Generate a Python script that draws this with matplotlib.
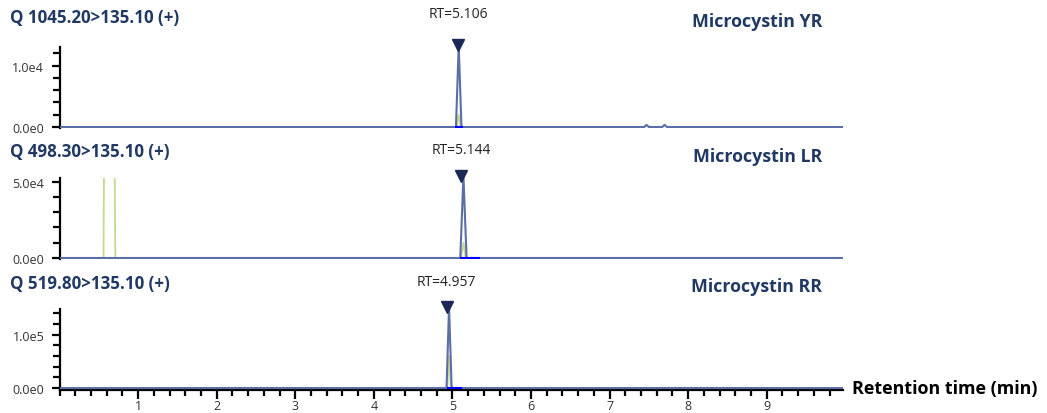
import matplotlib
matplotlib.use("Agg")
import matplotlib.pyplot as plt
from matplotlib.ticker import FixedLocator, MultipleLocator

# ---------------- data ----------------
transitions = ["Q 1045.20>135.10 (+)", "Q 498.30>135.10 (+)", "Q 519.80>135.10 (+)"]
compounds = ["Microcystin YR", "Microcystin LR", "Microcystin RR"]
rt_values = [5.106, 5.144, 4.957]
rt_labels = ["RT=5.106", "RT=5.144", "RT=4.957"]

# quantifier traces (blue)
yr_time = [0.0, 5.045, 5.08, 5.115, 7.44, 7.47, 7.50, 7.67, 7.70, 7.73, 9.97]
yr_int = [0, 0, 13300, 0, 0, 350, 0, 0, 350, 0, 0]
lr_time = [0.0, 5.10, 5.14, 5.18, 9.97]
lr_int = [0, 0, 53700, 0, 0]
rr_time = [0.0, 4.925, 4.957, 4.99, 9.97]
rr_int = [0, 0, 151800, 0, 0]

# qualifier traces (green)
yr_q_time = [5.055, 5.08, 5.105]
yr_q_int = [0, 2000, 0]
lr_q_time = [0.0, 0.56, 0.59, 0.67, 0.71, 5.11, 5.14, 5.17, 9.97]
lr_q_int = [0, 0, 300000, 300000, 0, 0, 10000, 0, 0]
rr_q_time = [4.935, 4.957, 4.98]
rr_q_int = [0, 60000, 0]

# integration baseline segments (bright blue)
yr_base = [5.03, 5.13]
lr_base = [5.10, 5.35]
rr_base = [4.93, 5.12]

# y-axis labelled ticks and minor tick step
y_major = [[0, 10000], [0, 50000], [0, 100000]]
y_major_labels = [["0.0e0", "1.0e4"], ["0.0e0", "5.0e4"], ["0.0e0", "1.0e5"]]
y_minor_step = [2000, 10000, 20000]
y_limits = [(-160, 13050), (-650, 52400), (-3700, 148000)]

x_ticks = [1, 2, 3, 4, 5, 6, 7, 8, 9]
x_tick_labels = ["1", "2", "3", "4", "5", "6", "7", "8", "9"]
x_max = 9.97

main_t = [yr_time, lr_time, rr_time]
main_i = [yr_int, lr_int, rr_int]
qual_t = [yr_q_time, lr_q_time, rr_q_time]
qual_i = [yr_q_int, lr_q_int, rr_q_int]
bases = [yr_base, lr_base, rr_base]

# ---------------- styling ----------------
W, H = 1047, 414
fig = plt.figure(figsize=(W / 100, H / 100), dpi=100)
plt.rcParams['font.family'] = ['Open Sans', 'DejaVu Sans']

navy = "#1f3864"
trace_c = "#5b6ea8"
qual_c = "#c5da8f"
marker_c = "#1b2a55"

# pixel boxes (top, bottom) for each panel axes
boxes = [(48, 129), (179, 260), (310, 391)]
left_px, right_px = 59.5, 843
title_y = [18, 152, 284]
comp_y = [22, 157, 287]
rt_y = [15, 150, 283]

for k in range(3):
    top, bot = boxes[k]
    ax = fig.add_axes([left_px / W, (H - bot) / H, (right_px - left_px) / W, (bot - top) / H])
    ax.set_xlim(0, x_max)
    ax.set_ylim(*y_limits[k])
    ax.plot(qual_t[k], qual_i[k], color=qual_c, lw=1.3, zorder=2)
    ax.plot(main_t[k], main_i[k], color=trace_c, lw=1.5, zorder=3)
    ax.plot(bases[k], [0, 0], color="#0000ff", lw=1.5, zorder=4, solid_capstyle="butt")
    apex = max(main_i[k])
    ax.plot([rt_values[k] - 0.03], [apex], marker="v", ms=8, color=marker_c,
            clip_on=False, zorder=5)

    for s in ["top", "right"]:
        ax.spines[s].set_visible(False)
    ax.spines["left"].set_linewidth(1.6)
    ax.spines["left"].set_color("black")
    ax.yaxis.set_major_locator(FixedLocator(y_major[k]))
    ax.set_yticklabels(y_major_labels[k], fontsize=9, color="#333333")
    ax.yaxis.set_minor_locator(MultipleLocator(y_minor_step[k]))
    ax.tick_params(axis="y", which="major", length=6, width=1.6, pad=5)
    ax.tick_params(axis="y", which="minor", length=5, width=1.6)

    if k < 2:
        ax.spines["bottom"].set_visible(False)
        ax.set_xticks([])
        ax.xaxis.set_minor_locator(FixedLocator([]))
    else:
        ax.spines["bottom"].set_linewidth(1.6)
        ax.set_xticks(x_ticks)
        ax.set_xticklabels(x_tick_labels, fontsize=9, color="#333333")
        ax.xaxis.set_minor_locator(MultipleLocator(0.2))
        ax.tick_params(axis="x", which="major", length=6.5, width=1.6, pad=0)
        ax.tick_params(axis="x", which="minor", length=4.5, width=1.6)

    fig.text(10 / W, 1 - title_y[k] / H, transitions[k], fontsize=12.2, fontweight="bold",
             color=navy, ha="left", va="center")
    fig.text(822 / W, 1 - comp_y[k] / H, compounds[k], fontsize=12.8, fontweight="bold",
             color=navy, ha="right", va="center")
    x_rt = left_px + (rt_values[k] - 0.03) * (right_px - left_px) / x_max
    fig.text(x_rt / W, 1 - rt_y[k] / H, rt_labels[k], fontsize=10, color="#222222",
             ha="center", va="center")

fig.text(852 / W, 1 - 389 / H, "Retention time (min)", fontsize=12.9, fontweight="bold",
         color="black", ha="left", va="center")

fig.savefig("out.png", dpi=100)
